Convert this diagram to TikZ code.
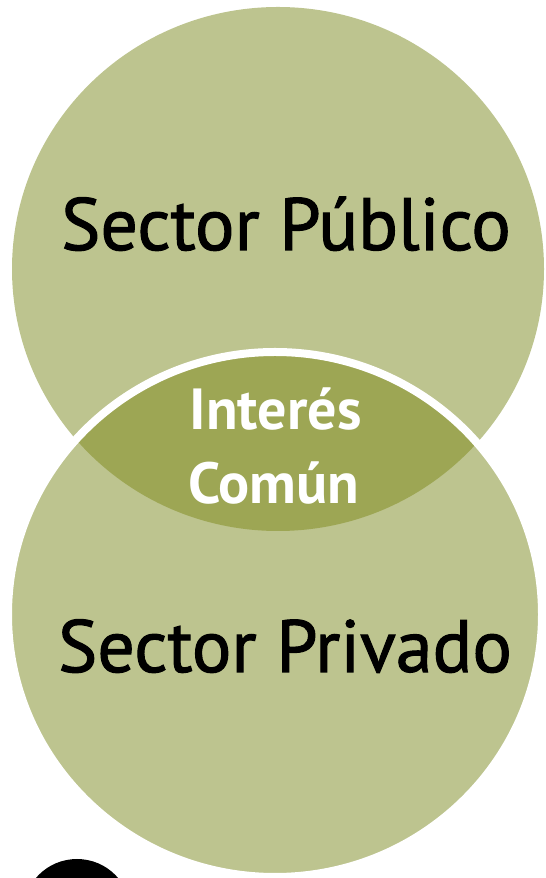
\documentclass[tikz,border=0pt]{standalone}
\usepackage{fontspec}
\setmainfont{PT Sans}
\newfontfamily\sectorfont{PT Sans}[FakeBold=1.4]
\usepackage{xcolor}
\definecolor{sectorGreen}{HTML}{BDC48F}
\definecolor{commonGreen}{HTML}{9DA654}
\usepackage{tikz}

\begin{document}
\begin{tikzpicture}[x=1pt, y=1pt]
  \clip (0,0) rectangle (546,878);
  % top circle
  \fill[sectorGreen] (278,609) ellipse [x radius=266, y radius=262];
  % bottom circle
  \fill[sectorGreen] (275,263.5) ellipse [x radius=267, y radius=262.5];
  % overlap: darker lens
  \begin{scope}
    \clip (278,609) ellipse [x radius=266, y radius=262];
    \fill[commonGreen] (275,263.5) ellipse [x radius=267, y radius=262.5];
  \end{scope}
  \draw[white, line width=8pt] (275,263.5) ellipse [x radius=267, y radius=262.5];
  % black dot, cut by the lower edge
  \fill[black] (77,-35) circle (54);
  % labels
  \node[anchor=base, inner sep=0pt, font=\sectorfont\fontsize{74}{80}\selectfont] (publico) at (286,628) {Sector Público};
  \node[anchor=base, inner sep=0pt, font=\sectorfont\fontsize{74}{80}\selectfont] (privado) at (285,206) {Sector Privado};
  \node[anchor=base, inner sep=0pt, white, font=\bfseries\fontsize{58}{60}\selectfont] (interes) at (275.5,448) {Interés};
  \node[anchor=base, inner sep=0pt, white, font=\bfseries\fontsize{58}{60}\selectfont] (comun) at (273.5,374) {Común};
\end{tikzpicture}
\end{document}
